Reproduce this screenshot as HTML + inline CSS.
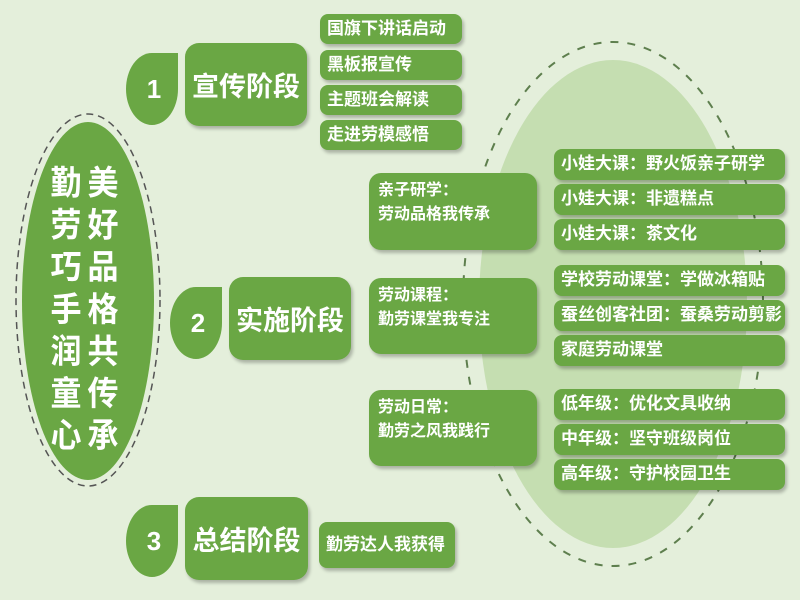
<!DOCTYPE html>
<html><head><meta charset="utf-8"><style>
body{margin:0;width:800px;height:600px;background:#e4efdb;position:relative;overflow:hidden;font-family:"Liberation Sans","Noto Sans CJK SC",sans-serif;font-weight:bold;color:#fff}
.b{position:absolute;background:#6aa744;border-radius:8px;box-shadow:2px 3px 3px rgba(0,0,0,.25);box-sizing:border-box}
.s{font-size:17px;line-height:30px;padding-left:7px;white-space:nowrap}
.big{font-size:27px;display:flex;align-items:center;justify-content:center;border-radius:14px}
.leaf{position:absolute;width:52px;height:72px;background:#6aa744;border-radius:50% 0 50% 50% / 50% 0 50% 50%;font-size:26px;display:flex;align-items:center;justify-content:center;padding-left:4px;box-sizing:border-box}
.m{font-size:16px;line-height:24px;padding:6px 0 0 9px;border-radius:12px}
.col{position:absolute;font-size:31px;line-height:39px;width:34px;text-align:center;transform:scaleY(1.08);transform-origin:top}
</style></head><body>
<svg width="800" height="600" style="position:absolute;left:0;top:0">
<ellipse cx="613" cy="304" rx="134" ry="244" fill="#c5deb1"/>
<ellipse cx="613" cy="304" rx="150" ry="262" fill="none" stroke="#5e7f4e" stroke-width="2" stroke-dasharray="8 9"/>
<ellipse cx="88" cy="300" rx="72" ry="186" fill="none" stroke="#555" stroke-width="1.5" stroke-dasharray="7 5"/>
<ellipse cx="88" cy="301" rx="66" ry="179" fill="#6aa744"/>
</svg>
<div class="col" style="left:86px;top:162px">美好品格共传承</div>
<div class="col" style="left:49px;top:162px">勤劳巧手润童心</div>

<div class="leaf" style="left:126px;top:53px">1</div>
<div class="b big" style="left:185px;top:43px;width:122px;height:83px">宣传阶段</div>
<div class="b s" style="left:320px;top:14px;width:142px;height:30px">国旗下讲话启动</div>
<div class="b s" style="left:320px;top:50px;width:142px;height:30px">黑板报宣传</div>
<div class="b s" style="left:320px;top:85px;width:142px;height:30px">主题班会解读</div>
<div class="b s" style="left:320px;top:120px;width:142px;height:30px">走进劳模感悟</div>

<div class="leaf" style="left:170px;top:287px">2</div>
<div class="b big" style="left:229px;top:277px;width:122px;height:83px">实施阶段</div>

<div class="leaf" style="left:126px;top:505px">3</div>
<div class="b big" style="left:185px;top:497px;width:123px;height:83px">总结阶段</div>
<div class="b s" style="left:319px;top:522px;width:136px;height:46px;line-height:46px">勤劳达人我获得</div>

<div class="b m" style="left:369px;top:173px;width:168px;height:77px">亲子研学：<br>劳动品格我传承</div>
<div class="b m" style="left:369px;top:278px;width:168px;height:76px">劳动课程：<br>勤劳课堂我专注</div>
<div class="b m" style="left:369px;top:390px;width:168px;height:76px">劳动日常：<br>勤劳之风我践行</div>

<div class="b s" style="left:554px;top:149px;width:231px;height:31px">小娃大课：野火饭亲子研学</div>
<div class="b s" style="left:554px;top:184px;width:231px;height:31px">小娃大课：非遗糕点</div>
<div class="b s" style="left:554px;top:219px;width:231px;height:31px">小娃大课：茶文化</div>
<div class="b s" style="left:554px;top:265px;width:231px;height:31px">学校劳动课堂：学做冰箱贴</div>
<div class="b s" style="left:554px;top:300px;width:231px;height:31px">蚕丝创客社团：蚕桑劳动剪影</div>
<div class="b s" style="left:554px;top:335px;width:231px;height:31px">家庭劳动课堂</div>
<div class="b s" style="left:554px;top:389px;width:231px;height:31px">低年级：优化文具收纳</div>
<div class="b s" style="left:554px;top:424px;width:231px;height:31px">中年级：坚守班级岗位</div>
<div class="b s" style="left:554px;top:459px;width:231px;height:31px">高年级：守护校园卫生</div>
</body></html>
